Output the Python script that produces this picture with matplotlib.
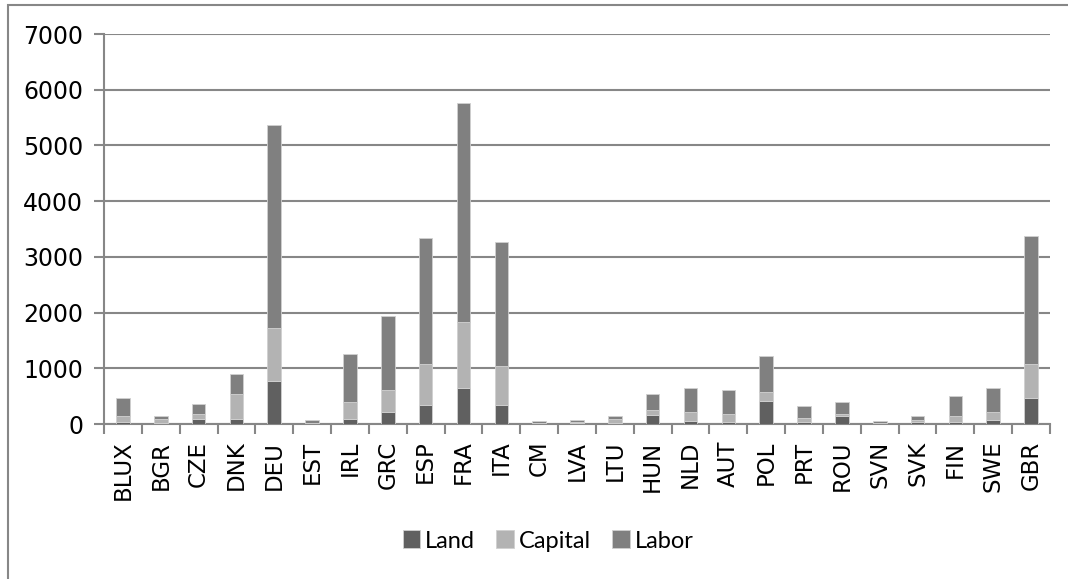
import numpy as np
import matplotlib
matplotlib.use("Agg")
import matplotlib.pyplot as plt
from matplotlib.patches import Rectangle

# values
countries = ['BLUX', 'BGR', 'CZE', 'DNK', 'DEU', 'EST', 'IRL', 'GRC', 'ESP', 'FRA',
             'ITA', 'CM', 'LVA', 'LTU', 'HUN', 'NLD', 'AUT', 'POL', 'PRT', 'ROU',
             'SVN', 'SVK', 'FIN', 'SWE', 'GBR']
land = [30, 25, 95, 95, 780, 10, 95, 210, 345, 640, 345, 10, 15, 20, 170, 60, 30,
        420, 30, 135, 10, 30, 30, 65, 460]
capital = [120, 70, 90, 445, 945, 15, 305, 395, 735, 1195, 700, 5, 20, 75, 85, 160,
           155, 155, 80, 50, 5, 50, 120, 155, 620]
labor = [315, 50, 175, 360, 3645, 50, 850, 1325, 2260, 3935, 2225, 30, 40, 50, 285,
         425, 425, 645, 205, 210, 30, 65, 345, 425, 2290]
yticks = [0, 1000, 2000, 3000, 4000, 5000, 6000, 7000]

plt.rcParams['font.family'] = ['DejaVu Sans']

W, H = 1068, 579
fig = plt.figure(figsize=(W / 100, H / 100), dpi=100)
ax = fig.add_axes([104 / W, 1 - 424 / H, (1050 - 104) / W, (424 - 34) / H])

grid_col = '#878787'
x = np.arange(len(countries))
bw = 0.36
edge = dict(edgecolor='#d0d0d0', linewidth=0.6)
b1 = ax.bar(x, land, bw, color='#606060', label='Land', zorder=3, **edge)
bot = np.array(land)
b2 = ax.bar(x, capital, bw, bottom=bot, color='#b3b3b3', label='Capital', zorder=3, **edge)
bot = bot + np.array(capital)
b3 = ax.bar(x, labor, bw, bottom=bot, color='#808080', label='Labor', zorder=3, **edge)

ax.set_xlim(-0.5, len(countries) - 0.5)
ax.set_ylim(0, 7000)
ax.set_yticks(yticks)
ax.set_yticklabels([str(v) for v in yticks], fontsize=17)
ax.yaxis.grid(True, color=grid_col, linewidth=1.5, zorder=0)
ax.set_axisbelow(True)

ax.set_xticks(x)
ax.set_xticklabels(countries, rotation=90, fontsize=16.5)
ax.set_xticks(np.arange(-0.5, len(countries)), minor=True)
ax.tick_params(axis='x', which='major', length=0, pad=12)
ax.tick_params(axis='x', which='minor', length=7, width=1.5, color=grid_col)
ax.tick_params(axis='y', length=7, width=1.5, color=grid_col, pad=8)

for s in ['top', 'right']:
    ax.spines[s].set_visible(False)
for s in ['left', 'bottom']:
    ax.spines[s].set_color(grid_col)
    ax.spines[s].set_linewidth(1.5)

fig.legend(handles=[b1, b2, b3], loc='center', ncol=3, frameon=False,
           bbox_to_anchor=(548 / W, 1 - 541 / H),
           prop={'family': 'Lato', 'size': 17}, handlelength=0.75, handleheight=0.8,
           handletextpad=0.2, columnspacing=0.9)

# chart frame (only top and left edges are in view)
fig.patches.append(Rectangle((8 / W, -0.1), 1.2, 1 - 5 / H + 0.1, transform=fig.transFigure,
                             fill=False, edgecolor=grid_col, linewidth=1.5))

fig.savefig('out.png', dpi=100)
